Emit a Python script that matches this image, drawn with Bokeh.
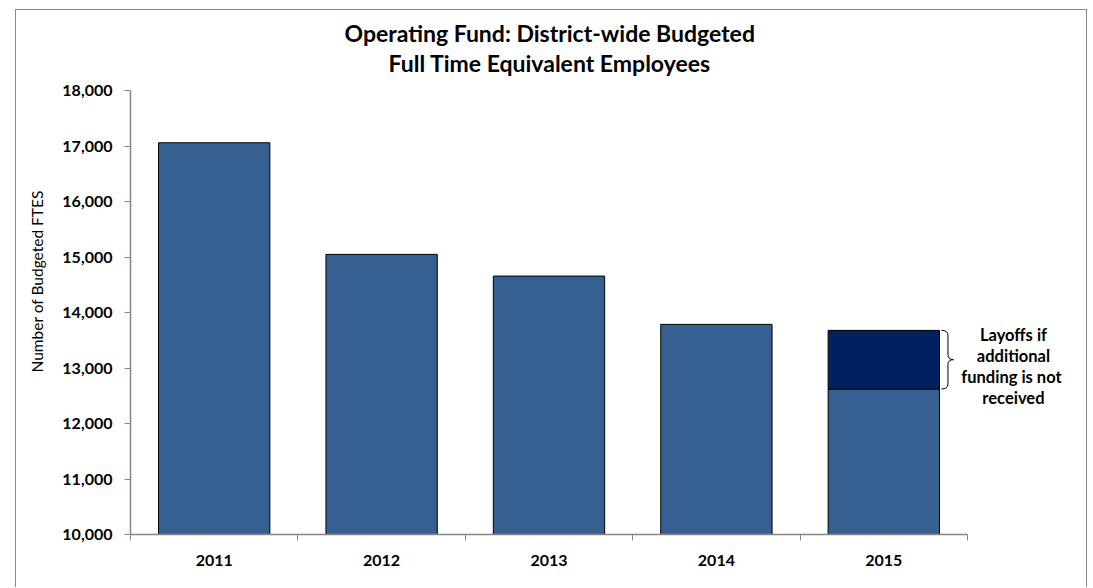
import math
from bokeh.plotting import figure
from bokeh.models import Range1d, FixedTicker, NumeralTickFormatter, Title
from bokeh.core.properties import value
from bokeh.embed import file_html
from bokeh.resources import INLINE

# ---- data ----
years = ["2011", "2012", "2013", "2014", "2015"]
ftes = [17058, 15047, 14656, 13786, 12622]          # base budgeted FTEs
layoffs = [0, 0, 0, 0, 1056]                          # additional if no funding
y_ticks = [10000, 11000, 12000, 13000, 14000, 15000, 16000, 17000, 18000]
title_lines = ["Operating Fund: District-wide Budgeted", "Full Time Equivalent Employees"]
y_label = "Number of Budgeted FTES"
note_text = "Layoffs if\nadditional\nfunding  is not\nreceived"

BAR = "#366092"
DARK = "#002060"
GRAY = "#868686"
FONT = "Lato"

xs = list(range(1, len(years) + 1))

# layout (pixels)
W, H = 1072, 578
ML, MR, MT, MB = 114, 0, 80, 54
frame_w = W - ML - MR
frame_h = H - MT - MB
cat_px = 837 / len(years)
x_end = 0.5 + frame_w / cat_px

p = figure(width=W, height=H, output_backend="svg", toolbar_location=None,
           x_range=Range1d(0.5, x_end), y_range=Range1d(y_ticks[0], y_ticks[-1]),
           min_border_left=ML, min_border_right=MR, min_border_top=MT, min_border_bottom=MB,
           background_fill_color="white", border_fill_color="white", title=None)
p.styles = {"margin-left": "15px", "margin-top": "9px",
            "border-top": "1px solid #8a8a8a", "border-left": "1px solid #8a8a8a",
            "border-right": "1px solid #8a8a8a"}
p.outline_line_color = None
p.grid.visible = False

# title (two lines, stacked above the frame)
p.add_layout(Title(text=title_lines[1], align="left", offset=258, text_font=FONT,
                   text_font_style="bold", text_font_size="23px", text_color="black",
                   standoff=28), "above")
p.add_layout(Title(text=title_lines[0], align="left", offset=214, text_font=FONT,
                   text_font_style="bold", text_font_size="23px", text_color="black",
                   standoff=-28), "above")

# bars
bw = 0.665
p.vbar(x=xs, top=ftes, bottom=0, width=bw, fill_color=BAR, line_color="black", line_width=1)
tops = [f + l for f, l in zip(ftes, layoffs)]
lx = [x for x, l in zip(xs, layoffs) if l > 0]
lb = [f for f, l in zip(ftes, layoffs) if l > 0]
lt = [t for t, l in zip(tops, layoffs) if l > 0]
p.vbar(x=lx, top=lt, bottom=lb, width=bw, fill_color=DARK, line_color="black", line_width=1)

# x axis
xa = p.xaxis[0]
xa.ticker = FixedTicker(ticks=xs, minor_ticks=[x - 0.5 for x in xs] + [xs[-1] + 0.5])
xa.major_label_overrides = {x: y for x, y in zip(xs, years)}
xa.bounds = (0.5, len(years) + 0.5)
xa.major_tick_line_color = None
xa.major_tick_out = 0
xa.major_tick_in = 0
xa.minor_tick_line_color = GRAY
xa.minor_tick_out = 6
xa.minor_tick_in = 0
xa.axis_line_color = GRAY
xa.axis_line_width = 1.5
xa.major_label_standoff = 14
xa.major_label_text_font = FONT
xa.major_label_text_font_style = "bold"
xa.major_label_text_font_size = "16px"
xa.major_label_text_color = "black"

# y axis
ya = p.yaxis[0]
ya.ticker = FixedTicker(ticks=y_ticks)
ya.formatter = NumeralTickFormatter(format="0,0")
ya.major_tick_line_color = GRAY
ya.major_tick_out = 6
ya.major_tick_in = 0
ya.minor_tick_line_color = None
ya.axis_line_color = GRAY
ya.axis_line_width = 1.5
ya.major_label_standoff = 12
ya.major_label_text_font = FONT
ya.major_label_text_font_style = "bold"
ya.major_label_text_font_size = "16px"
ya.major_label_text_color = "black"

# y label as a rotated title in the left panel
p.add_layout(Title(text=y_label, align="left", offset=162, text_font=FONT,
                   text_font_style="normal", text_font_size="15.5px", text_color="black",
                   standoff=23, vertical_align="top"), "left")

# pixel->data helpers for annotation placement
ux = 5 / 837.0
uy = (y_ticks[-1] - y_ticks[0]) / frame_h

# brace next to the layoff segment
bx = lx[0] + bw / 2
x0 = bx + 2 * ux
xv = bx + 8.5 * ux
xt = bx + 14 * ux
top, bot = lt[0], lb[0]
mid = (top + bot) / 2
r = 5 * uy
p.quadratic(x0=[x0, xv, xt, xv], y0=[top, mid + r, mid, bot + r],
            x1=[xv, xt, xv, x0], y1=[top - r, mid, mid - r, bot],
            cx=[xv, xv, xv, xv], cy=[top, mid, mid, bot], line_color="black", line_width=1)
p.segment(x0=[xv, xv], y0=[top - r, mid - r], x1=[xv, xv], y1=[mid + r, bot + r],
          line_color="black", line_width=1)

# note text
p.text(x=[bx + 74 * ux], y=[mid - 7 * uy], text=[note_text], text_align="center",
       text_baseline="middle", text_font=value(FONT), text_font_style="bold",
       text_font_size="16.5px", text_line_height=1.04, text_color="black")

open("out.html", "w").write(file_html(p, INLINE))
